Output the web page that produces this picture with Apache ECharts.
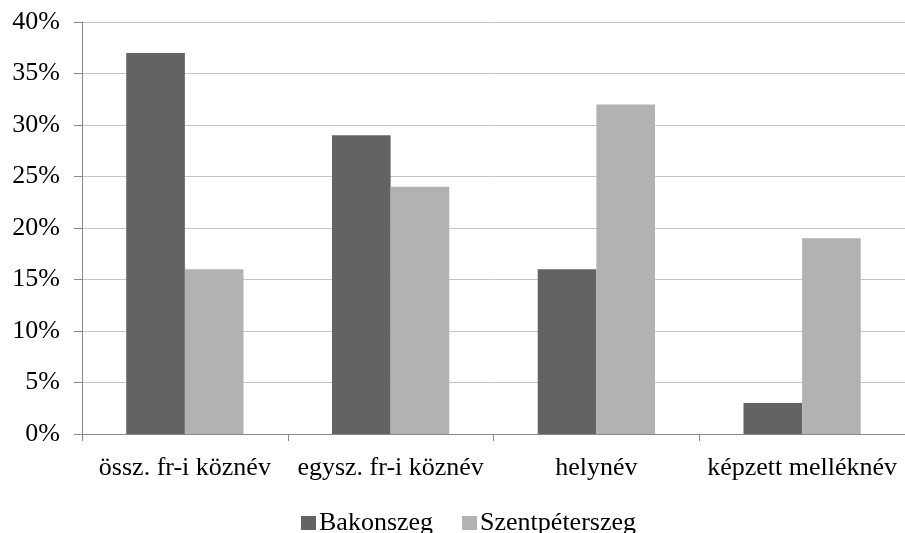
<!DOCTYPE html>
<html><head><meta charset="utf-8">
<script src="https://cdn.jsdelivr.net/npm/echarts@6/dist/echarts.min.js"></script>
<style>html,body{margin:0;padding:0;background:#fff}#c{width:905px;height:533px}</style>
</head><body><div id="c"></div>
<script>
const categories = ['össz. fr-i köznév', 'egysz. fr-i köznév', 'helynév', 'képzett melléknév'];
const bakonszeg = [37, 29, 16, 3];
const szentpeterszeg = [16, 24, 32, 19];
const seriesNames = ['Bakonszeg', 'Szentpéterszeg'];
const font = '"Liberation Serif", "Times New Roman", serif';
const chart = echarts.init(document.getElementById('c'));
chart.setOption({
  animation: false,
  backgroundColor: '#fff',
  textStyle: {fontFamily: font},
  grid: {left: 82, right: 0, top: 22, bottom: 99, containLabel: false},
  legend: {
    top: 505, left: 296, itemWidth: 15, itemHeight: 14, itemGap: 29,
    icon: 'rect',
    textStyle: {fontFamily: font, fontSize: 26, color: '#000', padding: [0, 0, 0, -2]},
    data: seriesNames
  },
  xAxis: {
    type: 'category', data: categories,
    axisLine: {lineStyle: {color: '#888', width: 1}},
    axisTick: {show: true, length: 7, lineStyle: {color: '#888'}},
    axisLabel: {fontFamily: font, fontSize: 26, color: '#000', margin: 21, interval: 0}
  },
  yAxis: {
    type: 'value', min: 0, max: 40, interval: 5,
    axisLine: {show: true, lineStyle: {color: '#888', width: 1}},
    axisTick: {show: true, length: 8, lineStyle: {color: '#888'}},
    splitLine: {lineStyle: {color: '#c6c6c6', width: 1}},
    axisLabel: {fontFamily: font, fontSize: 26, color: '#000', margin: 22, formatter: '{value}%'}
  },
  series: [
    {name: seriesNames[0], type: 'bar', data: bakonszeg, itemStyle: {color: '#636363'}, barGap: '0%', barCategoryGap: '43%'},
    {name: seriesNames[1], type: 'bar', data: szentpeterszeg, itemStyle: {color: '#b2b2b2'}, barGap: '0%', barCategoryGap: '43%'}
  ]
});
</script></body></html>
